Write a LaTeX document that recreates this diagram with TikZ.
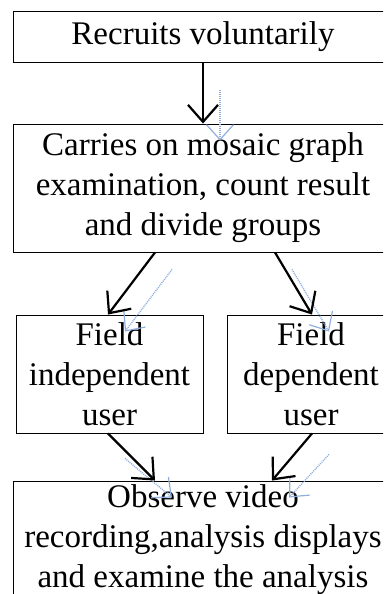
\documentclass[tikz,border=0pt]{standalone}
\usepackage{fontspec}
\setmainfont{Liberation Serif}
\usetikzlibrary{arrows.meta}
\definecolor{ghostblue}{HTML}{8FAEDD}
\begin{document}
\begin{tikzpicture}[x=1pt,y=-1pt,
  box/.style={draw=black, line width=0.9pt, inner sep=0pt, align=center,
    font=\fontsize{33}{40}\selectfont},
  flow/.style={line width=2.2pt, black,
    -{Straight Barb[length=17pt,width=30pt,line width=2.2pt]}},
  ghost/.style={line width=1.4pt, ghostblue, dash pattern=on 1pt off 1pt,
    -{Straight Barb[length=15pt,width=27pt,line width=1.2pt]}}]
\useasboundingbox (0,0) rectangle (383,594);
\clip (0,0) rectangle (383,594);
\node[box, minimum width=380pt, minimum height=51pt] (b1) at (203,36.5) {Recruits voluntarily};
\node[box, minimum width=380pt, minimum height=128pt] (b2) at (203,188)
  {Carries on mosaic graph\\examination, count result\\and divide groups};
\node[box, minimum width=187pt, minimum height=118pt] (b3) at (109.5,374)
  {Field\\independent\\user};
\node[box, minimum width=168pt, minimum height=118pt] (b4) at (311,374)
  {Field\\dependent\\user};
\node[box, minimum width=380pt, minimum height=118pt] (b5) at (203,540)
  {Observe video\\recording,analysis displays\\and examine the analysis};
% ghost (faint duplicate) arrows
\begin{scope}[transform canvas={shift={(17pt,-17pt)}}]
\draw[ghost] ([yshift=-11pt]b1.south) -- (b2.north);
\draw[ghost] ([xshift=-48pt]b2.south) -- ([xshift=-1.5pt]b3.north);
\draw[ghost] ([xshift=72pt]b2.south) -- ([xshift=1pt]b4.north);
\draw[ghost] ([xshift=-1.5pt,yshift=-8pt]b3.south) -- ([xshift=-48pt]b5.north);
\draw[ghost] ([xshift=1pt,yshift=-4pt]b4.south) -- ([xshift=69pt]b5.north);
\end{scope}
% main arrows
\draw[flow] (b1.south) -- (b2.north);
\draw[flow] ([xshift=-48pt]b2.south) -- ([xshift=-1.5pt]b3.north);
\draw[flow] ([xshift=72pt]b2.south) -- ([xshift=1pt]b4.north);
\draw[flow] ([xshift=-1.5pt]b3.south) -- ([xshift=-48pt]b5.north);
\draw[flow] ([xshift=1pt]b4.south) -- ([xshift=69pt]b5.north);
\end{tikzpicture}
\end{document}
